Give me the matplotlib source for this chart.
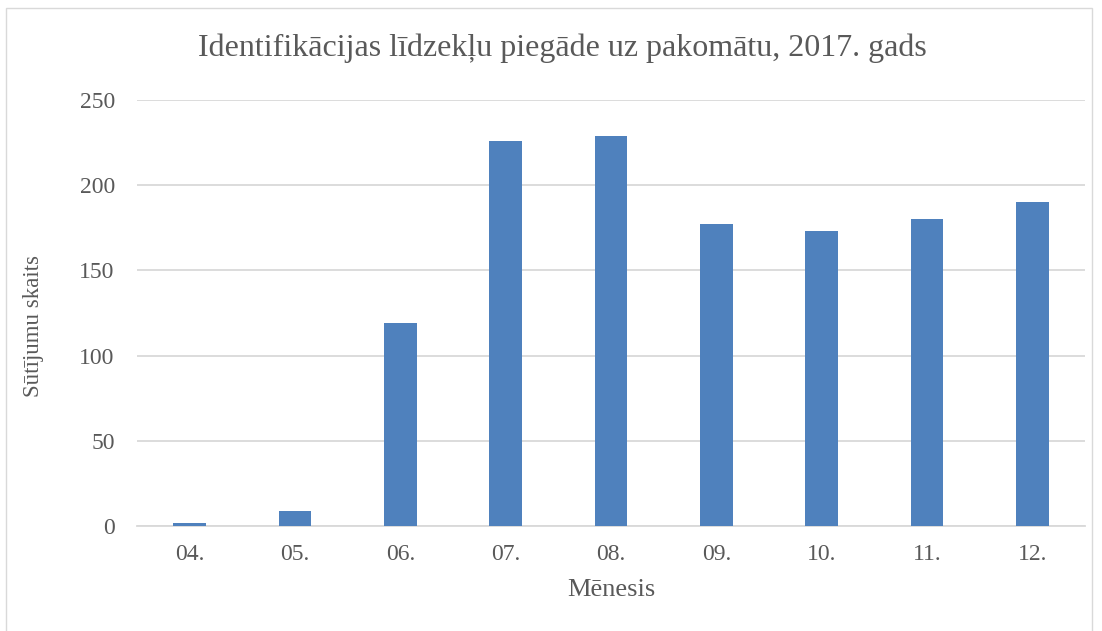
import matplotlib
matplotlib.use("Agg")
import matplotlib.pyplot as plt
from matplotlib.patches import Rectangle

months = ["04.", "05.", "06.", "07.", "08.", "09.", "10.", "11.", "12."]
shipments = [2, 9, 119, 226, 229, 177, 173, 180, 190]
y_ticks = [0, 50, 100, 150, 200, 250]

title = "Identifikācijas līdzekļu piegāde uz pakomātu, 2017. gads"
xlabel = "Mēnesis"
ylabel = "Sūtījumu skaits"

plt.rcParams['font.family'] = ['Liberation Serif', 'DejaVu Serif']
text_color = "#595959"
grid_color = "#D9D9D9"
bar_color = "#4F81BD"

fig = plt.figure(figsize=(11.02, 6.31), dpi=100)
ax = fig.add_axes([0.1243, 0.1664, 0.9846 - 0.1243, 0.8415 - 0.1664])

x = range(len(months))
ax.bar(x, shipments, width=0.31, color=bar_color, zorder=3)
ax.set_xlim(-0.5, len(months) - 0.5)
ax.set_ylim(0, 250)
ax.set_yticks(y_ticks)
ax.set_xticks(list(x))
ax.set_xticklabels(months)
ax.yaxis.grid(True, color=grid_color, linewidth=1.3, zorder=0)
ax.set_axisbelow(True)
for s in ["top", "right", "left"]:
    ax.spines[s].set_visible(False)
ax.spines["bottom"].set_color(grid_color)
ax.spines["bottom"].set_linewidth(1.3)
ax.tick_params(axis="both", length=0, labelsize=17, labelcolor=text_color)
ax.tick_params(axis="x", pad=13)
ax.tick_params(axis="y", pad=16)

ax.set_xlabel(xlabel, fontsize=19, color=text_color, labelpad=10)
ax.set_ylabel(ylabel, fontsize=16.5, color=text_color, labelpad=12)
ax.yaxis.set_label_coords(-0.098, 0.47)
fig.text(562 / 1102, 1 - 48 / 631, title, ha="center", va="center",
         fontsize=23, color=text_color)

fig.patches.append(Rectangle((6 / 1102, -0.01), 1086 / 1102, 1 - 8 / 631 + 0.01,
                             transform=fig.transFigure, fill=False,
                             edgecolor="#D9D9D9", linewidth=1.0))

fig.savefig("out.png", dpi=100)
